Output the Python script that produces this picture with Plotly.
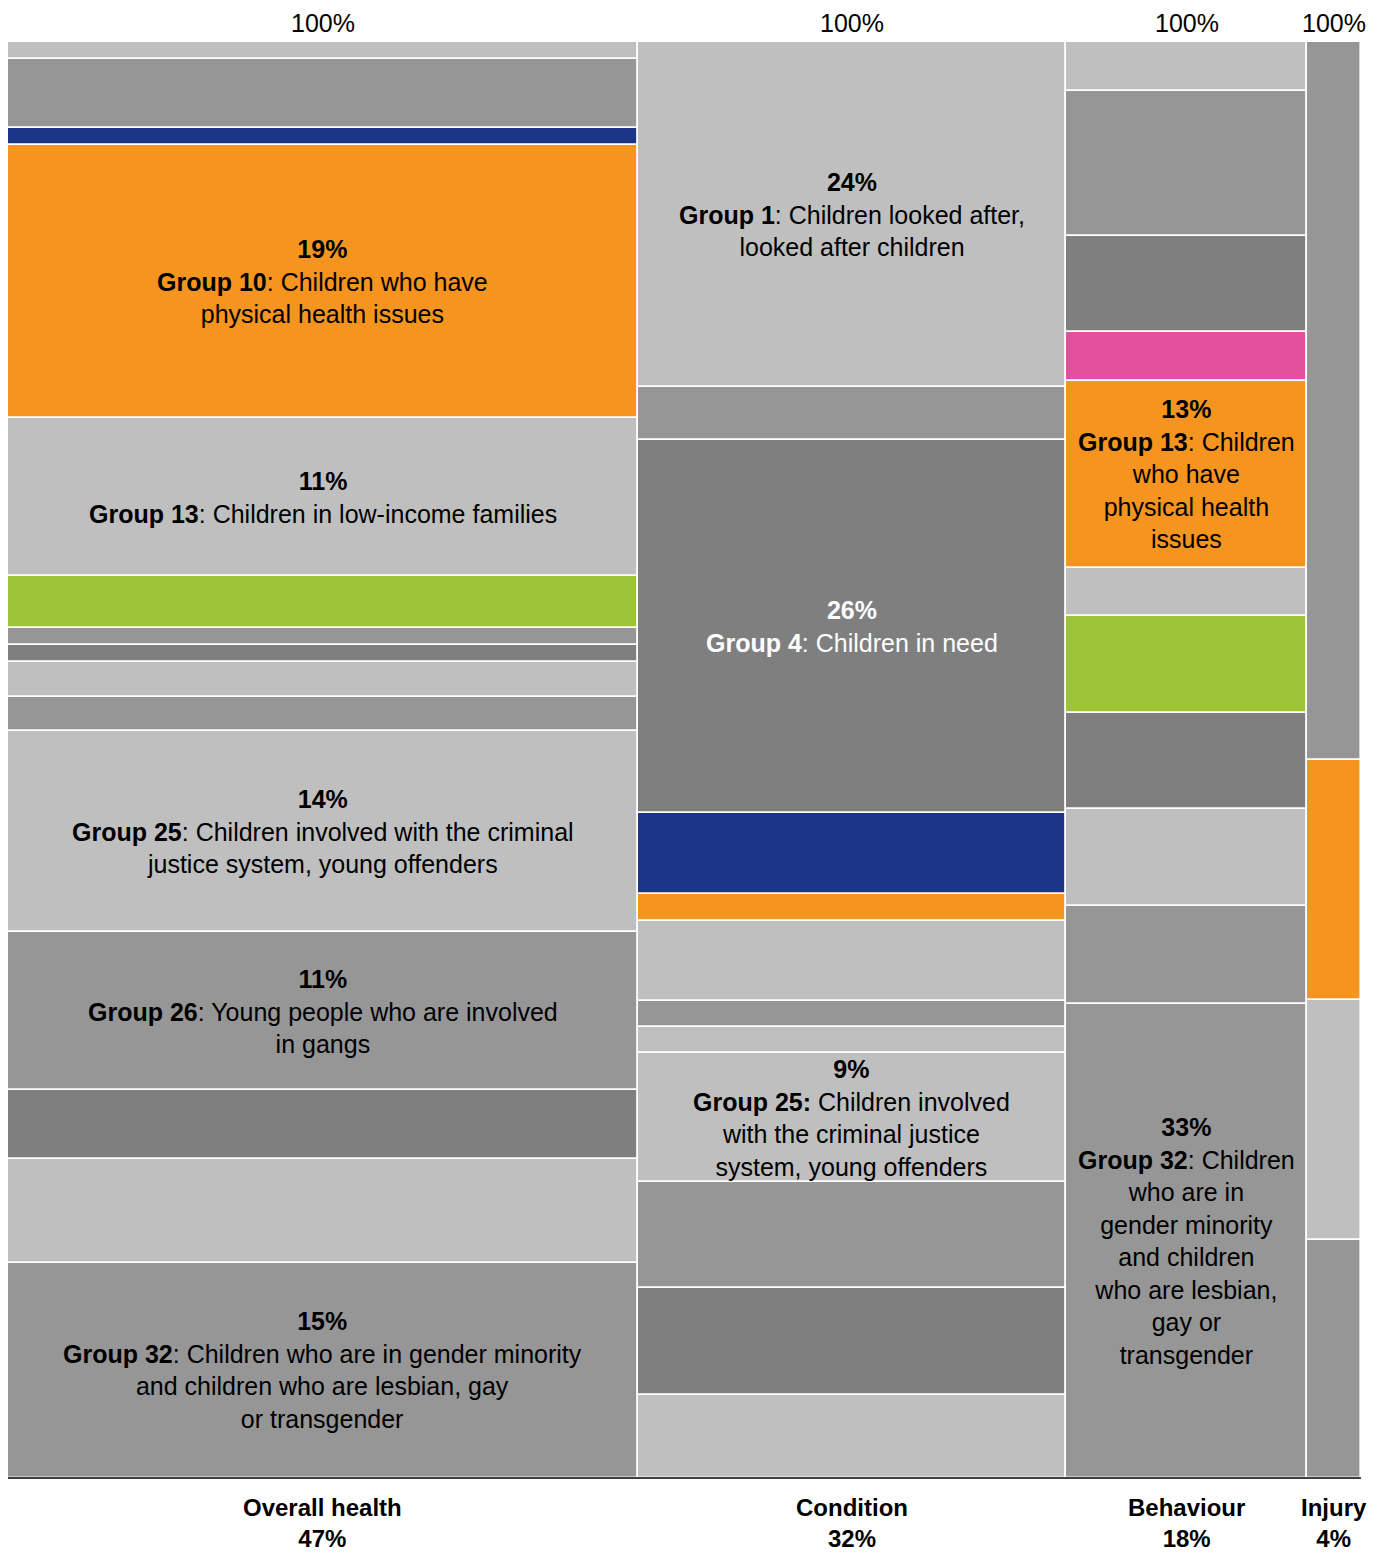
import plotly.graph_objects as go

# Column categories and their share (column widths)
categories = ["Overall health", "Condition", "Behaviour", "Injury"]
category_share = [47, 32, 18, 4]

LIGHT = "#bfbfbf"
MID = "#969696"
DARK = "#7f7f7f"
NAVY = "#1b3587"
ORANGE = "#f5941e"
GREEN = "#9dc437"
PINK = "#e24f9b"

# Segment shares within each column, listed from top to bottom
overall_values = [1.2, 4.8, 1.2, 19, 11, 3.6, 1.2, 1.2, 2.4, 2.4, 14, 11, 4.8, 7.2, 15]
overall_colors = [LIGHT, MID, NAVY, ORANGE, LIGHT, GREEN, MID, DARK, LIGHT, MID, LIGHT, MID, DARK, LIGHT, MID]
overall_labels = {
    3: "<b>19%<br>Group 10</b>: Children who have<br>physical health issues",
    4: "<b>11%<br>Group 13</b>: Children in low-income families",
    10: "<b>14%<br>Group 25</b>: Children involved with the criminal<br>justice system, young offenders",
    11: "<b>11%<br>Group 26</b>: Young people who are involved<br>in gangs",
    14: "<b>15%<br>Group 32</b>: Children who are in gender minority<br>and children who are lesbian, gay<br>or transgender",
}

condition_values = [24, 3.7, 26, 5.6, 1.9, 5.6, 1.8, 1.8, 9, 7.4, 7.4, 5.8]
condition_colors = [LIGHT, MID, DARK, NAVY, ORANGE, LIGHT, MID, LIGHT, LIGHT, MID, DARK, LIGHT]
condition_labels = {
    0: "<b>24%<br>Group 1</b>: Children looked after,<br>looked after children",
    2: "<b>26%<br>Group 4</b>: Children in need",
    8: "<b>9%<br>Group 25:</b> Children involved<br>with the criminal justice<br>system, young offenders",
}

behaviour_values = [3.4, 10.1, 6.7, 3.4, 13, 3.4, 6.7, 6.7, 6.8, 6.8, 33]
behaviour_colors = [LIGHT, MID, DARK, PINK, ORANGE, LIGHT, GREEN, DARK, LIGHT, MID, MID]
behaviour_labels = {
    4: "<b>13%<br>Group 13</b>: Children<br>who have<br>physical health<br>issues",
    10: "<b>33%<br>Group 32</b>: Children<br>who are in<br>gender minority<br>and children<br>who are lesbian,<br>gay or<br>transgender",
}

injury_values = [50, 16.7, 16.7, 16.6]
injury_colors = [MID, ORANGE, LIGHT, MID]
injury_labels = {}

columns = [
    (overall_values, overall_colors, overall_labels),
    (condition_values, condition_colors, condition_labels),
    (behaviour_values, behaviour_colors, behaviour_labels),
    (injury_values, injury_colors, injury_labels),
]

FONT = "Liberation Sans, Arial, sans-serif"
FS = 25

fig = go.Figure()
annotations = []

left = 0.0
total_width = sum(category_share)
for (values, colors, labels), name, share in zip(columns, categories, category_share):
    center = left + share / 2
    total = sum(values)
    top = total
    for i, (v, c) in enumerate(zip(values, colors)):
        base = top - v
        fig.add_trace(go.Bar(
            x=[center], y=[v], base=[base], width=[share],
            marker=dict(color=c, line=dict(color="white", width=1.6)),
            hoverinfo="skip", showlegend=False,
        ))
        if i in labels:
            annotations.append(dict(
                x=center, y=base + v / 2, xref="x", yref="y",
                text=labels[i], showarrow=False, align="center",
                font=dict(family=FONT, size=FS,
                          color="white" if c == DARK else "black"),
            ))
        top = base
    # total at the top of each column
    annotations.append(dict(
        x=center, y=total, xref="x", yref="y", text="100%",
        showarrow=False, yanchor="middle", yshift=19,
        font=dict(family=FONT, size=FS, color="black"),
    ))
    # category name and share beneath
    annotations.append(dict(
        x=center, y=0, xref="x", yref="y",
        text=f"<b>{name}<br>{share}%</b>",
        showarrow=False, yanchor="middle", yshift=-45,
        font=dict(family=FONT, size=24, color="black"),
    ))
    left += share

fig.update_layout(
    width=1390, height=1555,
    margin=dict(l=8, r=29, t=42, b=77),
    paper_bgcolor="white", plot_bgcolor="white",
    barmode="overlay", bargap=0,
    annotations=annotations,
    xaxis=dict(range=[0, total_width], showgrid=False, zeroline=False,
               showticklabels=False, ticks="", showline=False, fixedrange=True),
    yaxis=dict(range=[0, 100], showgrid=False, zeroline=False,
               showticklabels=False, ticks="", showline=False, fixedrange=True),
    shapes=[dict(type="line", xref="paper", yref="paper", x0=0, x1=1, y0=0, y1=0,
                 line=dict(color="black", width=1.5))],
)

fig.write_html("out.html")
